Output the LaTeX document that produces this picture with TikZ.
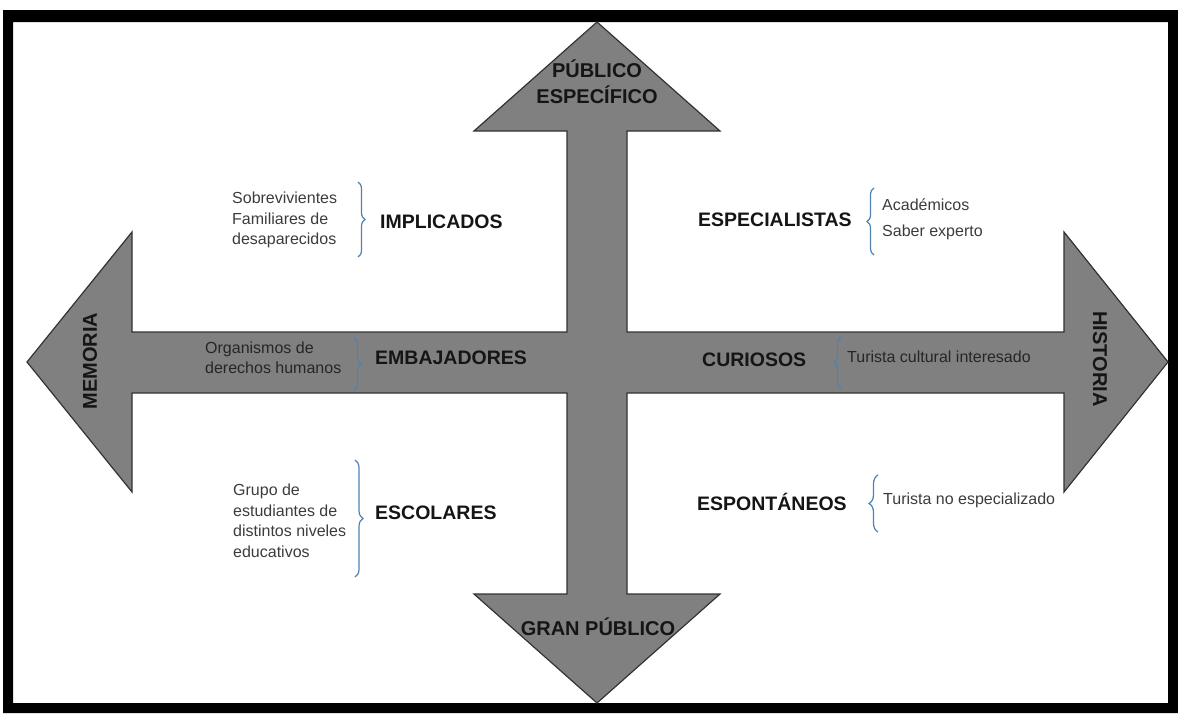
\documentclass[tikz,border=0pt]{standalone}
\usepackage{fontspec}
\setmainfont{Liberation Sans}
\usetikzlibrary{decorations.pathreplacing}
\definecolor{arrowgray}{HTML}{808080}
\definecolor{arrowline}{HTML}{333333}
\definecolor{headc}{HTML}{151515}
\definecolor{smallc}{HTML}{3C3C3C}
\definecolor{smallband}{HTML}{262626}
\definecolor{bracec}{HTML}{4F82B0}
\begin{document}
\begin{tikzpicture}[x=1pt,y=-1pt,
  head/.style={font=\fontsize{19.5}{26}\selectfont\bfseries, text=headc, inner sep=0pt},
  axislabel/.style={font=\fontsize{20}{26}\selectfont\bfseries, text=headc, inner sep=0pt, align=center},
  small/.style={font=\fontsize{16}{20.5}\selectfont, text=smallc, inner sep=0pt, align=left},
  bracestyle/.style={draw=bracec, line width=1.2pt, decorate, decoration={brace, amplitude=#1}},
  bracestyle/.default=7pt]
\useasboundingbox (0,0) rectangle (1178,713);
% frame
\fill[black, even odd rule] (3,10) rectangle (1178,713) (13,22) rectangle (1168,703);
% cross arrow
\draw[fill=arrowgray, draw=arrowline, line width=1.2pt, line join=miter]
  (597,22) -- (720,131) -- (627,131) -- (627,332) -- (1064,332) -- (1064,232)
  -- (1168,362) -- (1064,492) -- (1064,393) -- (627,393) -- (627,594)
  -- (720,594) -- (597,703) -- (474,594) -- (567,594) -- (567,393)
  -- (132,393) -- (132,492) -- (27,362) -- (132,232) -- (132,332)
  -- (567,332) -- (567,131) -- (474,131) -- cycle;
% axis labels
\node[axislabel] (top) at (597,82) {PÚBLICO\\ESPECÍFICO};
\node[axislabel] (bottom) at (598,627) {GRAN PÚBLICO};
\node[axislabel, rotate=90] (left) at (90,361) {MEMORIA};
\node[axislabel, rotate=-90] (right) at (1100,359) {HISTORIA};
% headings
\node[head, anchor=west] (impl) at (380,222) {IMPLICADOS};
\node[head, anchor=west] (espe) at (698,220) {ESPECIALISTAS};
\node[head, anchor=west] (emba) at (375,358) {EMBAJADORES};
\node[head, anchor=west] (curi) at (702,360) {CURIOSOS};
\node[head, anchor=west] (esco) at (375,513) {ESCOLARES};
\node[head, anchor=west] (espo) at (697,502) {ESPONTÁNEOS};
% small texts
\node[small, anchor=west] (implt) at (232,220) {Sobrevivientes\\Familiares de\\desaparecidos};
\node[small, anchor=west] (espet1) at (882,205) {Académicos};
\node[small, anchor=west] (espet2) at (882,232) {Saber experto};
\node[small, anchor=west, text=smallband] (embat) at (205,358) {Organismos de\\derechos humanos};
\node[small, anchor=west, text=smallband] (curit) at (847,357) {Turista cultural interesado};
\node[small, anchor=west] (escot) at (233,521) {Grupo de\\estudiantes de\\distintos niveles\\educativos};
\node[small, anchor=west] (espot) at (883,500) {Turista no especializado};
% braces
\coordinate (b1t) at (358,182); \coordinate (b1b) at (358,257);
\draw[bracestyle] (b1t) -- (b1b);
\coordinate (b2t) at (874,188); \coordinate (b2b) at (874,255);
\draw[bracestyle] (b2b) -- (b2t);
\coordinate (b3t) at (354,338); \coordinate (b3b) at (354,390);
\draw[bracestyle] (b3t) -- (b3b);
\coordinate (b4t) at (841,337); \coordinate (b4b) at (841,388);
\draw[bracestyle] (b4b) -- (b4t);
\coordinate (b5t) at (355,460); \coordinate (b5b) at (355,577);
\draw[bracestyle=8pt] (b5t) -- (b5b);
\coordinate (b6t) at (878,475); \coordinate (b6b) at (878,532);
\draw[bracestyle=9pt] (b6b) -- (b6t);
\end{tikzpicture}
\end{document}
